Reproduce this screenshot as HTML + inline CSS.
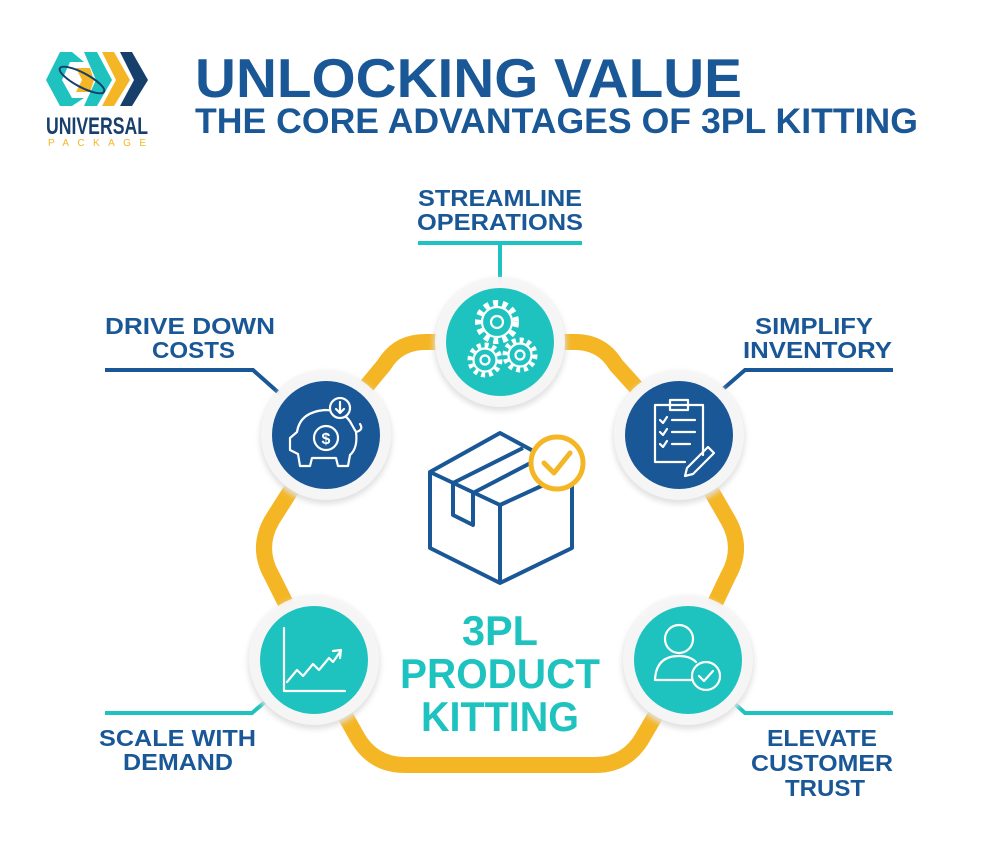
<!DOCTYPE html>
<html><head><meta charset="utf-8"><style>
html,body{margin:0;padding:0;background:#fff;}
svg{display:block;}
text{font-family:"Liberation Sans",sans-serif;font-weight:bold;}
</style></head><body>
<svg width="1000" height="853" viewBox="0 0 1000 853" xmlns="http://www.w3.org/2000/svg">
<defs>
<filter id="sh" x="-30%" y="-30%" width="160%" height="160%"><feGaussianBlur stdDeviation="3"/></filter>
</defs>
<rect width="1000" height="853" fill="#fff"/>

<!-- logo -->
<g>
<path d="M60 52 L72 52 L84 62 L70 62 L62 80 L72 98 L84 98 L72 106 L60 106 L46 80 Z" fill="#1ec3c0"/>
<path d="M84 52 L97 52 L112 80 L97 106 L84 106 L96 80 Z" fill="#1ec3c0"/>
<path d="M76 68 L90 68 L94 80 L90 92 L76 92 L82 80 Z" fill="#f5b625"/>
<path d="M102 52 L114 52 L130 80 L114 106 L102 106 L116 80 Z" fill="#f5b625"/>
<path d="M120 52 L132 52 L148 80 L132 106 L120 106 L134 80 Z" fill="#173f6b"/>
<ellipse cx="82" cy="80" rx="25" ry="7" transform="rotate(28 82 80)" fill="none" stroke="#173f6b" stroke-width="2"/>
<text x="46" y="134" font-size="24" fill="#173f6b" textLength="102" lengthAdjust="spacingAndGlyphs">UNIVERSAL</text>
<text x="48" y="146" font-size="10" fill="#f5b625" textLength="98" lengthAdjust="spacing" style="font-weight:normal">PACKAGE</text>
</g>

<!-- title -->
<text x="195" y="97" font-size="55" fill="#1a5796" textLength="547" lengthAdjust="spacingAndGlyphs">UNLOCKING VALUE</text>
<text x="195" y="133" font-size="35" fill="#1a5796" textLength="723" lengthAdjust="spacingAndGlyphs">THE CORE ADVANTAGES OF 3PL KITTING</text>

<!-- yellow ring -->
<path d="M500 342 L425 342 Q398 342 384 365 L326 435 L272 520 Q256 548 272 576 L314 660 L356 735 Q372 765 405 765 L595 765 Q628 765 644 735 L688 660 L728 576 Q744 548 728 520 L679 435 L616 365 Q602 342 575 342 Z" fill="none" stroke="#f5b625" stroke-width="16" stroke-linejoin="round"/>

<!-- connectors -->
<g fill="none" stroke-width="4">
<path d="M418 243 L582 243 M500 243 L500 285" stroke="#1ec3c0"/>
<path d="M105 370 L253 370 L280 394" stroke="#1a5796"/>
<path d="M893 370 L745 370 L722 390" stroke="#1a5796"/>
<path d="M105 713 L252 713 L272 696" stroke="#1ec3c0"/>
<path d="M893 713 L745 713 L735 704" stroke="#1ec3c0"/>
</g>

<!-- circles -->
<g>
<circle cx="500" cy="345" r="66" fill="#e0e0e0" filter="url(#sh)"/>
<circle cx="500" cy="342" r="65" fill="#f6f6f6" fill-opacity="0.92"/>
<circle cx="500" cy="342" r="54" fill="#1ec3c0"/>
<circle cx="326" cy="438" r="66" fill="#e0e0e0" filter="url(#sh)"/>
<circle cx="326" cy="435" r="65" fill="#f6f6f6" fill-opacity="0.92"/>
<circle cx="326" cy="435" r="54" fill="#1a5796"/>
<circle cx="679" cy="438" r="66" fill="#e0e0e0" filter="url(#sh)"/>
<circle cx="679" cy="435" r="65" fill="#f6f6f6" fill-opacity="0.92"/>
<circle cx="679" cy="435" r="54" fill="#1a5796"/>
<circle cx="314" cy="663" r="66" fill="#e0e0e0" filter="url(#sh)"/>
<circle cx="314" cy="660" r="65" fill="#f6f6f6" fill-opacity="0.92"/>
<circle cx="314" cy="660" r="54" fill="#1ec3c0"/>
<circle cx="688" cy="663" r="66" fill="#e0e0e0" filter="url(#sh)"/>
<circle cx="688" cy="660" r="65" fill="#f6f6f6" fill-opacity="0.92"/>
<circle cx="688" cy="660" r="54" fill="#1ec3c0"/>
</g>

<!-- icons -->
<g fill="none" stroke="#fff" stroke-width="2.2" stroke-linejoin="round" stroke-linecap="round">
<!-- gears -->
<circle cx="497" cy="322" r="19" stroke-width="6" stroke-dasharray="5 4.5" stroke-linecap="butt"/><circle cx="497" cy="322" r="15" fill="#1ec3c0"/><circle cx="497" cy="322" r="6"/>
<circle cx="485" cy="360" r="15" stroke-width="5" stroke-dasharray="4 3.8" stroke-linecap="butt"/><circle cx="485" cy="360" r="11.5" fill="#1ec3c0"/><circle cx="485" cy="360" r="4.5"/>
<circle cx="520" cy="355" r="15" stroke-width="5" stroke-dasharray="4 3.8" stroke-linecap="butt"/><circle cx="520" cy="355" r="11.5" fill="#1ec3c0"/><circle cx="520" cy="355" r="4.5"/>
<!-- piggy -->
<path d="M297 432 Q300 412 325 410 Q345 410 352 425 L356 432 Q358 448 350 455 L348 466 L338 466 L336 458 L312 458 L310 466 L300 466 L298 454 L290 450 L290 438 Z"/>
<circle cx="326" cy="438" r="12"/>
<text x="326" y="444" font-size="16" fill="#fff" stroke="none" text-anchor="middle">$</text>
<circle cx="340" cy="408" r="10" fill="#1a5796"/>
<path d="M340 402 L340 413 M336 409 L340 413 L344 409"/>
<path d="M356 432 Q364 430 360 424"/>
<!-- clipboard -->
<path d="M655 405 L703 405 L703 455 M655 405 L655 462 L685 462"/>
<path d="M670 400 L688 400 L688 410 L670 410 Z"/>
<path d="M660 420 L663 423 L667 417 M672 420 L695 420 M660 432 L663 435 L667 429 M672 432 L695 432 M660 444 L663 447 L667 441 M672 444 L690 444"/>
<path d="M708 447 L714 453 L693 474 L685 476 L687 468 Z"/>
<!-- chart -->
<path d="M284 628 L284 691 L345 691"/>
<path d="M287 682 L297 670 L303 676 L313 664 L319 670 L329 658 L333 662 L340 652 M333 651 L341 650 L340 658"/>
<!-- person -->
<circle cx="679" cy="639" r="14"/>
<path d="M655 680 Q656 656 679 656 Q690 656 696 662 M655 680 L693 680"/>
<circle cx="706" cy="676" r="14" fill="#1ec3c0"/>
<path d="M699 676 L704 681 L713 671"/>
</g>

<!-- box -->
<g fill="none" stroke="#1a5796" stroke-width="4" stroke-linejoin="round">
<path d="M500 433 L430 472 L500 505 L572 472 Z"/>
<path d="M430 472 L430 548 L500 583 L572 548 L572 472 M500 505 L500 583"/>
<path d="M453 483 L523 448 M473 493 L542 457 M453 483 L453 515 L473 525 L473 493"/>
</g>
<circle cx="557" cy="463" r="26" fill="#fff" stroke="#f5b625" stroke-width="5"/>
<path d="M544 463 L554 473 L570 453" fill="none" stroke="#f5b625" stroke-width="5" stroke-linecap="round" stroke-linejoin="round"/>

<!-- center text -->
<g fill="#1ec3c0" text-anchor="middle">
<text x="500" y="645" font-size="42" textLength="76" lengthAdjust="spacingAndGlyphs">3PL</text>
<text x="500" y="688" font-size="42" textLength="200" lengthAdjust="spacingAndGlyphs">PRODUCT</text>
<text x="500" y="731" font-size="42" textLength="158" lengthAdjust="spacingAndGlyphs">KITTING</text>
</g>

<!-- labels -->
<g fill="#1a5796" font-size="23">
<text x="418" y="206" textLength="164" lengthAdjust="spacingAndGlyphs">STREAMLINE</text>
<text x="417" y="230" textLength="166" lengthAdjust="spacingAndGlyphs">OPERATIONS</text>
<text x="105" y="334" textLength="170" lengthAdjust="spacingAndGlyphs">DRIVE DOWN</text>
<text x="152" y="358" textLength="83" lengthAdjust="spacingAndGlyphs">COSTS</text>
<text x="755" y="334" textLength="118" lengthAdjust="spacingAndGlyphs">SIMPLIFY</text>
<text x="743" y="358" textLength="149" lengthAdjust="spacingAndGlyphs">INVENTORY</text>
<text x="99" y="746" textLength="157" lengthAdjust="spacingAndGlyphs">SCALE WITH</text>
<text x="123" y="770" textLength="110" lengthAdjust="spacingAndGlyphs">DEMAND</text>
<text x="767" y="746" textLength="110" lengthAdjust="spacingAndGlyphs">ELEVATE</text>
<text x="751" y="771" textLength="142" lengthAdjust="spacingAndGlyphs">CUSTOMER</text>
<text x="785" y="796" textLength="80" lengthAdjust="spacingAndGlyphs">TRUST</text>
</g>
</svg>
</body></html>
